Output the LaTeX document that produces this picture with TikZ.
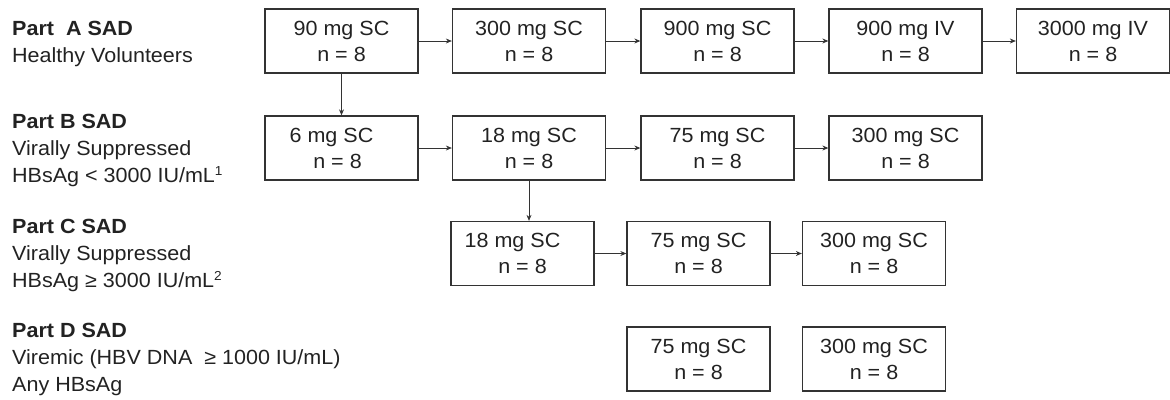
\documentclass[tikz,border=0pt]{standalone}
\usepackage{fontspec}
\setmainfont{Liberation Sans}[FakeStretch=1.05]
\usetikzlibrary{arrows.meta}
\definecolor{ink}{HTML}{222222}
\definecolor{edge}{HTML}{333333}
\tikzset{
  dosebox/.style={draw=edge, line width=1.3pt, minimum width=153pt, minimum height=64pt,
    inner sep=0pt, align=center, text=ink, font=\fontsize{20.5}{26}\selectfont},
  lbl/.style={anchor=base west, inner sep=0pt, text=ink, font=\fontsize{20.5}{26}\selectfont},
  lblb/.style={lbl, font=\fontsize{20.5}{26}\selectfont\bfseries},
  flow/.style={draw=edge, line width=0.9pt, -{Stealth[length=6pt,width=5pt]}}
}
\newcommand{\supnum}[1]{\raisebox{7pt}{\fontsize{13}{13}\selectfont #1}}
\begin{document}
\begin{tikzpicture}[x=1pt,y=-1pt]
\useasboundingbox (0,0) rectangle (1170,399);
% left labels
\node[lblb] (la1) at (12,35) {Part\ \ A SAD};
\node[lbl]  (la2) at (12,62) {Healthy Volunteers};
\node[lblb] (lb1) at (12,128) {Part B SAD};
\node[lbl]  (lb2) at (12,155) {Virally Suppressed};
\node[lbl]  (lb3) at (12,182) {HBsAg < 3000 IU/mL\supnum{1}};
\node[lblb] (lc1) at (12,233) {Part C SAD};
\node[lbl]  (lc2) at (12,260) {Virally Suppressed};
\node[lbl]  (lc3) at (12,287) {HBsAg ≥ 3000 IU/mL\supnum{2}};
\node[lblb] (ld1) at (12,337) {Part D SAD};
\node[lbl]  (ld2) at (12,364) {Viremic (HBV DNA \ ≥ 1000 IU/mL)};
\node[lbl]  (ld3) at (12,391) {Any HBsAg};
% row A
\node[dosebox] (a1) at (341.5,41) {90 mg SC\\n = 8};
\node[dosebox] (a2) at (529,41) {300 mg SC\\n = 8};
\node[dosebox] (a3) at (717.5,41) {900 mg SC\\n = 8};
\node[dosebox] (a4) at (905.5,41) {900 mg IV\\n = 8};
\node[dosebox] (a5) at (1093,41) {3000 mg IV\\n = 8};
% row B
\node[dosebox] (b1) at (341.5,148) {6 mg SC\hspace*{20pt}\\n = 8\hspace*{8pt}};
\node[dosebox] (b2) at (529,148) {18 mg SC\\n = 8};
\node[dosebox] (b3) at (717.5,148) {75 mg SC\\n = 8};
\node[dosebox] (b4) at (905.5,148) {300 mg SC\\n = 8};
% row C
\node[dosebox, minimum width=143pt] (c1) at (522.5,253.5) {18 mg SC\hspace*{20pt}\\n = 8};
\node[dosebox, minimum width=143pt] (c2) at (698.5,253.5) {75 mg SC\\n = 8};
\node[dosebox, minimum width=143pt] (c3) at (874,253.5) {300 mg SC\\n = 8};
% row D
\node[dosebox, minimum width=143pt] (d1) at (698.5,359) {75 mg SC\\n = 8};
\node[dosebox, minimum width=143pt] (d2) at (874,359) {300 mg SC\\n = 8};
% connectors
\draw[flow] (a1) -- (a2);
\draw[flow] (a2) -- (a3);
\draw[flow] (a3) -- (a4);
\draw[flow] (a4) -- (a5);
\draw[flow] (a1) -- (b1);
\draw[flow] (b1) -- (b2);
\draw[flow] (b2) -- (b3);
\draw[flow] (b3) -- (b4);
\draw[flow] (b2.south) -- (b2.south |- c1.north);
\draw[flow] (c1) -- (c2);
\draw[flow] (c2) -- (c3);
\end{tikzpicture}
\end{document}
